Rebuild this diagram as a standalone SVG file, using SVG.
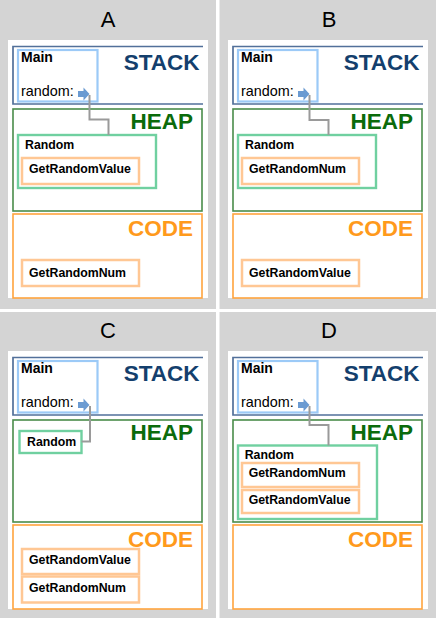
<svg xmlns="http://www.w3.org/2000/svg" width="436" height="618" viewBox="0 0 436 618">
<style>
.bg{fill:#d4d4d4}
.card{fill:#ffffff}
.lbl{font-family:"Liberation Sans",Arial,sans-serif;font-size:22px;fill:#000;text-anchor:middle}
.stack{fill:none;stroke:#52709a;stroke-width:1.7}
.main{fill:#fff;stroke:#9ccaf7;stroke-width:2.2}
.heap{fill:none;stroke:#4a8c4a;stroke-width:1.6}
.obj{fill:#fff;stroke:#70d0a0;stroke-width:2.4}
.fn{fill:#fff;stroke:#ffc794;stroke-width:2.5}
.code{fill:none;stroke:#ffa43e;stroke-width:1.6}
.t{font-family:"Liberation Sans",Arial,sans-serif;fill:#000}
.b12{font-size:12.3px;font-weight:bold}
.b13{font-size:14px;font-weight:bold}
.r{font-size:14.4px}
.big{font-family:"Liberation Sans",Arial,sans-serif;font-size:22.5px;font-weight:bold;text-anchor:end}
.ts{fill:#143f6d}
.th{fill:#0b6b0b}
.tc{fill:#ff9a1c}
.ptr{fill:#6b9bd2}
.wire{fill:none;stroke:#9a9a9a;stroke-width:2}
</style>
<defs>
<g id="frame">
<rect class="card" x="8" y="40" width="200" height="258"/>
<path class="stack" d="M203,46.5 H13 V104 H203"/>
<text class="big ts" x="199.5" y="69.5">STACK</text>
<rect class="heap" x="13" y="109" width="189" height="102"/>
<text class="big th" x="193" y="128.5">HEAP</text>
<rect class="code" x="13" y="214" width="189" height="84"/>
<text class="big tc" x="193" y="236">CODE</text>
<rect class="main" x="18" y="50" width="79.5" height="51.5"/>
<text class="t b13" x="21" y="62">Main</text>
<text class="t r" x="21" y="96.3">random:</text>
<path class="ptr" d="M78,91 H83.5 V87.5 L89.5,94 L83.5,100.5 V97 H78 Z"/>
</g>
</defs>
<rect class="bg" x="0" y="0" width="436" height="618"/>
<rect fill="#ffffff" x="216" y="0" width="3.5" height="618"/>
<rect fill="#ffffff" x="0" y="309" width="436" height="3"/>

<g id="panelA">
<text class="lbl" x="108" y="27">A</text>
<use href="#frame"/>
<g id="A-random"><rect class="obj" x="18" y="135" width="138" height="53"/><text class="t b12" x="25" y="149">Random</text></g>
<g id="A-getRandomValue"><rect class="fn" x="22" y="158" width="117" height="26"/><text class="t b12" x="29" y="173.3">GetRandomValue</text></g>
<g id="A-getRandomNum"><rect class="fn" x="22" y="260" width="117" height="26"/><text class="t b12" x="29" y="276.7">GetRandomNum</text></g>
</g>

<g id="panelB" transform="translate(220,0)">
<text class="lbl" x="109" y="27">B</text>
<use href="#frame"/>
<g id="B-random"><rect class="obj" x="18" y="135" width="138" height="53"/><text class="t b12" x="25" y="149">Random</text></g>
<g id="B-getRandomNum"><rect class="fn" x="22" y="158" width="117" height="26"/><text class="t b12" x="29" y="173.3">GetRandomNum</text></g>
<g id="B-getRandomValue"><rect class="fn" x="22" y="260" width="117" height="26"/><text class="t b12" x="29" y="276.7">GetRandomValue</text></g>
</g>

<g id="panelC" transform="translate(0,311)">
<text class="lbl" x="108" y="27">C</text>
<use href="#frame"/>
<g id="C-random"><rect class="obj" x="19.5" y="120" width="62" height="22"/><text class="t b12" x="27" y="134.5">Random</text></g>
<g id="C-getRandomValue"><rect class="fn" x="22" y="238" width="117" height="25"/><text class="t b12" x="29" y="252.5">GetRandomValue</text></g>
<g id="C-getRandomNum"><rect class="fn" x="22" y="265.5" width="117" height="26"/><text class="t b12" x="29" y="281">GetRandomNum</text></g>
</g>

<g id="panelD" transform="translate(220,311)">
<text class="lbl" x="109" y="27">D</text>
<use href="#frame"/>
<g id="D-random"><rect class="obj" x="18" y="134.5" width="139" height="73.5"/><text class="t b12" x="24.7" y="148">Random</text></g>
<g id="D-getRandomNum"><rect class="fn" x="22" y="152" width="117" height="24"/><text class="t b12" x="28.7" y="166">GetRandomNum</text></g>
<g id="D-getRandomValue"><rect class="fn" x="22" y="179" width="117" height="23"/><text class="t b12" x="28.7" y="193">GetRandomValue</text></g>
</g>

<g id="connectors">
<path class="wire" d="M89.5,95 V119.5 H108.5 V135"/>
<path class="wire" d="M309.5,95 V120 H328.5 V135"/>
<path class="wire" d="M90,406 V441.5 H81.5"/>
<path class="wire" d="M309.5,406 V425 H328.5 V445.5"/>
</g>
</svg>
